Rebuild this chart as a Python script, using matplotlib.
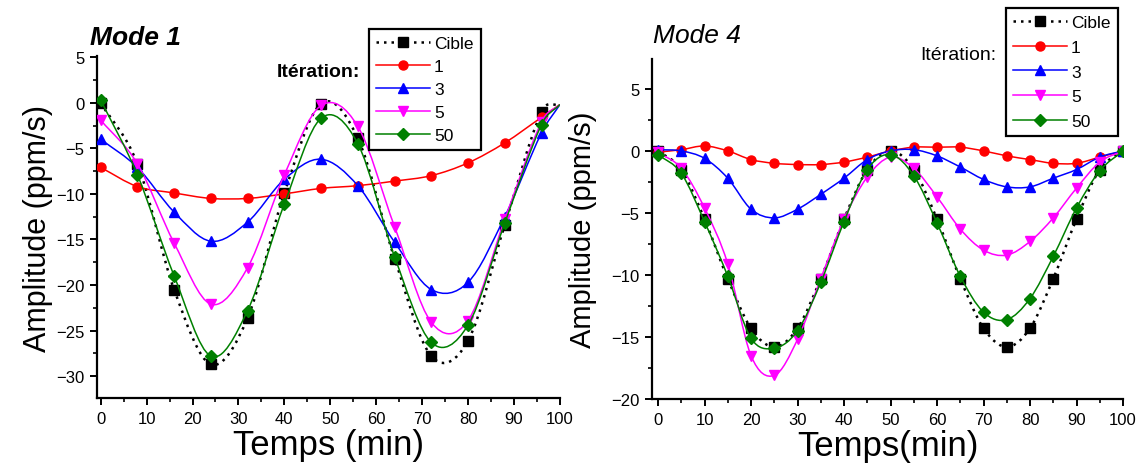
import numpy as np
import matplotlib
matplotlib.use('Agg')
import matplotlib.pyplot as plt
from matplotlib.path import Path
from matplotlib.patches import PathPatch
from matplotlib.lines import Line2D
from matplotlib.ticker import MultipleLocator

plt.rcParams['font.family'] = ['Liberation Sans', 'DejaVu Sans']

# ---------------- data: Mode 1 ----------------
t1 = [0, 8, 16, 24, 32, 40, 48, 56, 64, 72, 80, 88, 96, 100]
m1_cible = [0.0, -6.7, -20.5, -28.7, -23.6, -9.9, -0.1, -3.9, -17.1, -27.8, -26.1, -13.4, -1.0, -0.2]
m1_it1 = [-7.1, -9.2, -9.9, -10.5, -10.5, -10.0, -9.4, -9.1, -8.6, -8.0, -6.6, -4.4, -1.6, -0.2]
m1_it3 = [-4.0, -7.1, -12.0, -15.2, -13.1, -8.4, -6.2, -9.1, -15.3, -20.5, -19.7, -12.5, -3.3, -0.2]
m1_it5 = [-1.9, -6.7, -15.4, -22.1, -18.1, -7.9, -0.3, -2.6, -13.6, -24.1, -23.9, -12.8, -2.1, -0.2]
m1_it50 = [0.3, -7.9, -19.0, -27.8, -22.8, -11.1, -1.7, -4.5, -16.9, -26.3, -24.4, -13.2, -2.4, -0.2]

# ---------------- data: Mode 4 ----------------
t4 = [0, 5, 10, 15, 20, 25, 30, 35, 40, 45, 50, 55, 60, 65, 70, 75, 80, 85, 90, 95, 100]
m4_cible = [0.0, -1.5, -5.5, -10.3, -14.3, -15.8, -14.3, -10.3, -5.5, -1.5, 0.0,
            -1.5, -5.5, -10.3, -14.3, -15.8, -14.3, -10.3, -5.5, -1.5, 0.0]
m4_it1 = [-0.1, 0.1, 0.4, 0.0, -0.7, -1.0, -1.1, -1.1, -0.9, -0.5, 0.0,
          0.3, 0.3, 0.3, 0.0, -0.4, -0.7, -1.0, -1.0, -0.5, 0.0]
m4_it3 = [0.1, 0.0, -0.6, -2.2, -4.7, -5.4, -4.7, -3.5, -2.2, -0.7, 0.0,
          0.1, -0.4, -1.3, -2.3, -2.9, -2.9, -2.2, -1.5, -0.5, 0.0]
m4_it5 = [-0.1, -1.4, -4.6, -9.1, -16.5, -18.1, -15.2, -10.3, -5.5, -2.1, -0.5,
          -1.4, -3.7, -6.3, -8.0, -8.4, -7.3, -5.4, -3.0, -0.9, 0.0]
m4_it50 = [-0.3, -1.8, -5.7, -10.1, -15.1, -15.9, -14.5, -10.6, -5.7, -1.5, -0.3,
           -2.0, -5.8, -10.1, -13.0, -13.6, -11.9, -8.5, -4.6, -1.6, 0.0]

labels = ['Cible', '1', '3', '5', '50']
colors = ['black', '#ff0000', '#0000ff', '#ff00ff', '#008000']
markers = ['s', 'o', '^', 'v', 'D']
msizes = [7, 6.5, 7, 7, 5.8]


def smooth_path(x, y):
    """Cubic Hermite (Catmull-Rom like) Bezier path through the data points."""
    x = np.asarray(x, float)
    y = np.asarray(y, float)
    n = len(x)
    m = np.zeros(n)
    m[0] = (y[1] - y[0]) / (x[1] - x[0])
    m[-1] = (y[-1] - y[-2]) / (x[-1] - x[-2])
    for i in range(1, n - 1):
        m[i] = (y[i + 1] - y[i - 1]) / (x[i + 1] - x[i - 1])
    verts = [(x[0], y[0])]
    codes = [Path.MOVETO]
    for i in range(n - 1):
        h = x[i + 1] - x[i]
        verts += [(x[i] + h / 3, y[i] + m[i] * h / 3),
                  (x[i + 1] - h / 3, y[i + 1] - m[i + 1] * h / 3),
                  (x[i + 1], y[i + 1])]
        codes += [Path.CURVE4] * 3
    return Path(verts, codes)


def draw(ax, t, series, mark_last):
    for k, ys in enumerate(series):
        p = smooth_path(t, ys)
        if k == 0:
            patch = PathPatch(p, facecolor='none', edgecolor=colors[k], lw=1.8,
                              linestyle=(0, (1, 2)), zorder=2)
        else:
            patch = PathPatch(p, facecolor='none', edgecolor=colors[k], lw=1.1, zorder=3 + k)
        ax.add_patch(patch)
        tt = t if mark_last else t[:-1]
        yy = ys if mark_last else ys[:-1]
        ax.plot(tt, yy, linestyle='none', marker=markers[k], ms=msizes[k],
                color=colors[k], zorder=3 + k)


def style(ax):
    for s in ['top', 'right']:
        ax.spines[s].set_visible(False)
    for s in ['left', 'bottom']:
        ax.spines[s].set_linewidth(1.6)
    ax.xaxis.set_major_locator(MultipleLocator(10))
    ax.xaxis.set_minor_locator(MultipleLocator(5))
    ax.yaxis.set_major_locator(MultipleLocator(5))
    ax.yaxis.set_minor_locator(MultipleLocator(2.5))
    ax.tick_params(which='major', direction='out', length=5, width=1.4, labelsize=12, pad=4)
    ax.tick_params(which='minor', direction='out', length=3, width=1.2)


def legend(anchor, fs, spacing, hl):
    handles = []
    for k in range(5):
        ls = (0, (1, 2)) if k == 0 else '-'
        lw = 1.8 if k == 0 else 1.1
        handles.append(Line2D([], [], color=colors[k], ls=ls, lw=lw,
                              marker=markers[k], ms=msizes[k]))
    leg = fig.legend(handles, labels, loc='upper left', bbox_to_anchor=anchor,
                     bbox_transform=fig.transFigure, fontsize=fs, frameon=True,
                     fancybox=False, framealpha=1, edgecolor='black',
                     handlelength=hl, handletextpad=0.25, labelspacing=spacing,
                     borderpad=0.4, borderaxespad=0, numpoints=1)
    leg.get_frame().set_linewidth(1.6)
    return leg


fig = plt.figure(figsize=(11.45, 4.77), dpi=100)

ax1 = fig.add_axes([0.0847, 0.1635, 0.4043, 0.7165])
draw(ax1, t1, [m1_cible, m1_it1, m1_it3, m1_it5, m1_it50], mark_last=False)
ax1.set_xlim(-0.8, 100)
ax1.set_ylim(-32.4, 5.1)
style(ax1)
ax1.set_xlabel('Temps (min)', fontsize=25, labelpad=2)
ax1.set_ylabel('Amplitude (ppm/s)', fontsize=22, labelpad=2)

ax2 = fig.add_axes([0.5694, 0.1614, 0.4114, 0.7126])
draw(ax2, t4, [m4_cible, m4_it1, m4_it3, m4_it5, m4_it50], mark_last=True)
ax2.set_xlim(-1.3, 100)
ax2.set_ylim(-20.0, 7.4)
style(ax2)
ax2.set_xlabel('Temps(min)', fontsize=25, labelpad=2)
ax2.set_ylabel('Amplitude (ppm/s)', fontsize=21, labelpad=10)

fig.text(90 / 1145, 1 - 45 / 477, 'Mode 1', fontsize=19, fontweight='bold',
         fontstyle='italic', ha='left', va='baseline')
fig.text(653 / 1145, 1 - 43 / 477, 'Mode 4', fontsize=19, fontstyle='italic',
         ha='left', va='baseline')
fig.text(360 / 1145, 1 - 77 / 477, 'Itération:', fontsize=14, fontweight='bold',
         ha='right', va='baseline')
fig.text(996 / 1145, 1 - 60 / 477, 'Itération:', fontsize=14,
         ha='right', va='baseline')

legend((369 / 1145, 1 - 30 / 477), 12.5, 0.45, 3.1)
legend((1006 / 1145, 1 - 9 / 477), 12.5, 0.55, 3.1)

fig.savefig('out.png', dpi=100)
